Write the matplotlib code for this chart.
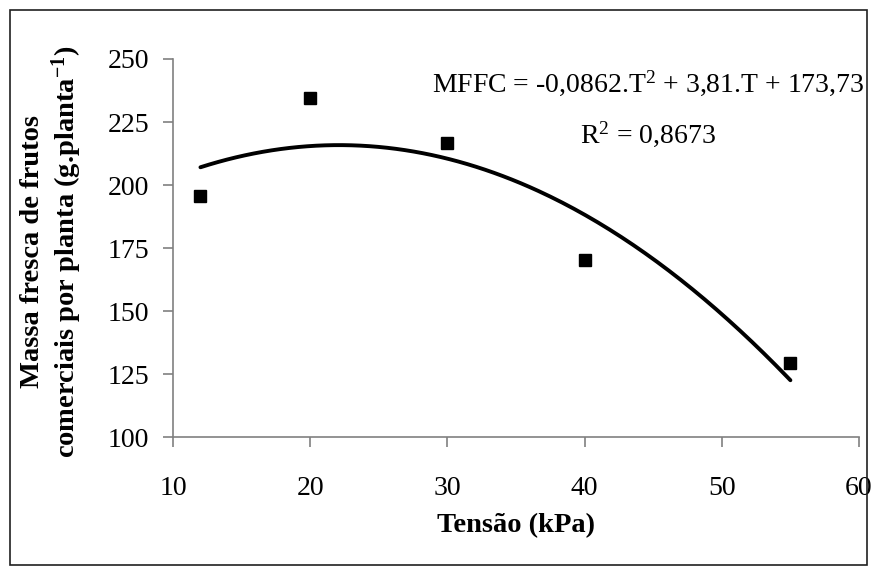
import numpy as np
import matplotlib
matplotlib.use("Agg")
import matplotlib.pyplot as plt
from matplotlib.patches import Rectangle

plt.rcParams['font.family'] = ['Liberation Serif', 'DejaVu Serif']
plt.rcParams['mathtext.default'] = 'regular'

# observed points
tensao = [12, 20, 30, 40, 55]
massa = [195.6, 234.5, 216.5, 170.2, 129.2]

# trendline coefficients shown on the chart (T^2, T, const)
coef = [-0.0862, 3.81, 173.73]

xticks = [10, 20, 30, 40, 50, 60]
yticks = [100, 125, 150, 175, 200, 225, 250]

fig = plt.figure(figsize=(8.76, 5.73), dpi=100)
ax = fig.add_axes([173 / 876, 1 - 437 / 573, (859 - 173) / 876, (437 - 59) / 573])

t = np.linspace(min(tensao), max(tensao), 200)
ax.plot(t, np.polyval(coef, t), color='black', lw=2.8, solid_capstyle='round')
ax.plot(tensao, massa, 's', color='black', ms=8.2, clip_on=False)

ax.set_xlim(10, 60)
ax.set_ylim(100, 250)
ax.set_xticks(xticks)
ax.set_yticks(yticks)
for s in ['top', 'right']:
    ax.spines[s].set_visible(False)
for s in ['left', 'bottom']:
    ax.spines[s].set_color('#808080')
    ax.spines[s].set_linewidth(1.2)
ax.tick_params(direction='out', length=7, width=1.2, color='#808080',
               labelsize=20, labelcolor='black')
ax.tick_params(axis='x', pad=21)
ax.tick_params(axis='y', pad=10)

ax.set_xlabel('Tensão (kPa)', fontsize=20.5, fontweight='bold')
ax.xaxis.set_label_coords(0.5, -(526 - 437) / 378)
ax.xaxis.label.set_va('center')
ax.set_ylabel('Massa fresca de frutos\ncomerciais por planta (g.planta$^{-1}$)',
              fontsize=20.5, fontweight='bold', linespacing=1.15)
ax.yaxis.set_label_coords(-(173 - 52) / 686, 0.49)
ax.yaxis.label.set_va('center')

fig.text(648 / 876, 1 - 83 / 573, 'MFFC = -0,0862.T$^{2}$ + 3,81.T + 173,73',
         fontsize=20, ha='center', va='center')
fig.text(648 / 876, 1 - 134 / 573, 'R$^{2}$ = 0,8673',
         fontsize=20, ha='center', va='center')

fig.patches.append(Rectangle((10 / 876, 8 / 573), 857 / 876, 555 / 573,
                             transform=fig.transFigure, fill=False,
                             edgecolor='#202020', lw=1.2))

fig.savefig('out.png', dpi=100)
